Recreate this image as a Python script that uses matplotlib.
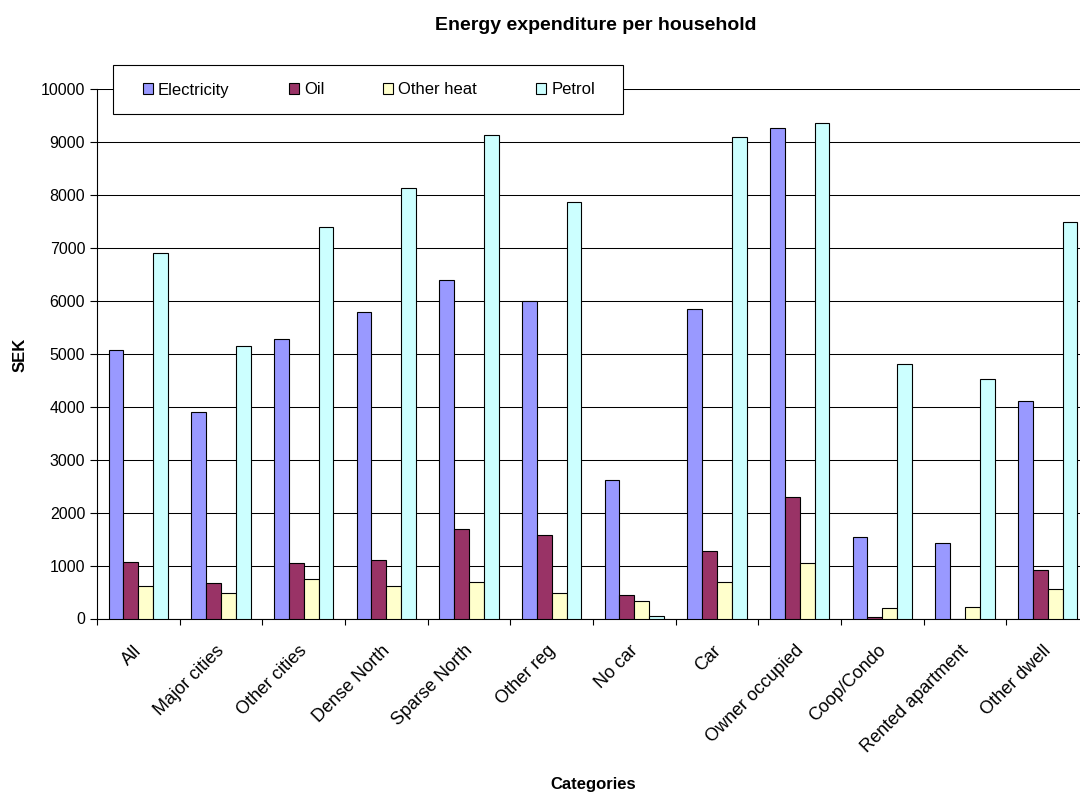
import numpy as np
import matplotlib
matplotlib.use("Agg")
import matplotlib.pyplot as plt
from matplotlib.patches import Rectangle
from matplotlib.transforms import ScaledTranslation

plt.rcParams['font.family'] = ['Liberation Sans', 'DejaVu Sans']

# Energy expenditure per household (SEK)
categories = ["All", "Major cities", "Other cities", "Dense North", "Sparse North",
              "Other reg", "No car", "Car", "Owner occupied", "Coop/Condo",
              "Rented apartment", "Other dwell"]
electricity = [5076, 3893, 5284, 5792, 6397, 6000, 2612, 5849, 9271, 1533, 1426, 4114]
oil = [1066, 669, 1054, 1110, 1697, 1584, 435, 1274, 2290, 25, 0, 915]
other_heat = [606, 473, 745, 618, 694, 486, 322, 688, 1054, 196, 215, 562]
petrol = [6899, 5151, 7385, 8126, 9139, 7868, 50, 9095, 9353, 4798, 4524, 7479]

series = [("Electricity", electricity, "#9999FF"),
          ("Oil", oil, "#993366"),
          ("Other heat", other_heat, "#FFFFCC"),
          ("Petrol", petrol, "#CCFFFF")]

W, H = 1080, 792
fig = plt.figure(figsize=(W / 100, H / 100), dpi=100)
# plot area runs a little past the right edge of the figure
ax = fig.add_axes([97 / W, 1 - 618.5 / H, 992 / W, (618.5 - 89) / H])

x = np.arange(len(categories))
bw = 0.18
handles = []
for i, (name, vals, col) in enumerate(series):
    b = ax.bar(x + (i - 1.5) * bw, vals, bw, color=col, edgecolor="black",
               linewidth=0.8, label=name, zorder=3)
    handles.append(b)

ax.set_xlim(-0.5, len(categories) - 0.5)
ax.set_ylim(0, 10000)
ax.set_yticks(np.arange(0, 10001, 1000))
ax.yaxis.grid(True, color="black", linewidth=0.75)
ax.set_axisbelow(True)

for s in ["top", "right"]:
    ax.spines[s].set_visible(False)
for s in ["left", "bottom"]:
    ax.spines[s].set_linewidth(0.8)

ax.tick_params(axis="y", direction="out", length=5, width=0.8, pad=3.5, labelsize=11.5)

# tick marks between categories, labels at the centres
ax.set_xticks(x)
ax.set_xticks(np.arange(-0.5, len(categories), 1), minor=True)
ax.tick_params(axis="x", which="major", length=0, pad=17)
ax.tick_params(axis="x", which="minor", direction="out", length=4, width=0.8)
ax.set_xticklabels(categories, rotation=45, ha="right", va="top",
                   rotation_mode="anchor", fontsize=13)
shift = ScaledTranslation(-5 / 100, 0, fig.dpi_scale_trans)
for lab in ax.get_xticklabels():
    lab.set_transform(lab.get_transform() + shift)

fig.text(596 / W, 1 - 29.5 / H, "Energy expenditure per household",
         ha="center", va="baseline", fontsize=14, fontweight="bold")
fig.text(593 / W, 1 - 789.5 / H, "Categories", ha="center", va="baseline",
         fontsize=12, fontweight="bold")
fig.text(20 / W, 1 - 355 / H, "SEK", ha="center", va="center", rotation=90,
         fontsize=12, fontweight="bold")

# legend box over the top gridline
fig.add_artist(Rectangle((113 / W, 1 - 114 / H), 510 / W, 49 / H,
                         transform=fig.transFigure, facecolor="white",
                         edgecolor="black", linewidth=0.8, zorder=4))
fig.legend(handles=handles, loc="center left", bbox_to_anchor=(143 / W, 1 - 90 / H),
           ncol=4, frameon=False, fontsize=12, borderpad=0, borderaxespad=0,
           handlelength=0.6, handleheight=0.6, handletextpad=0.3,
           columnspacing=3.55)

fig.savefig("out.png", dpi=100)
